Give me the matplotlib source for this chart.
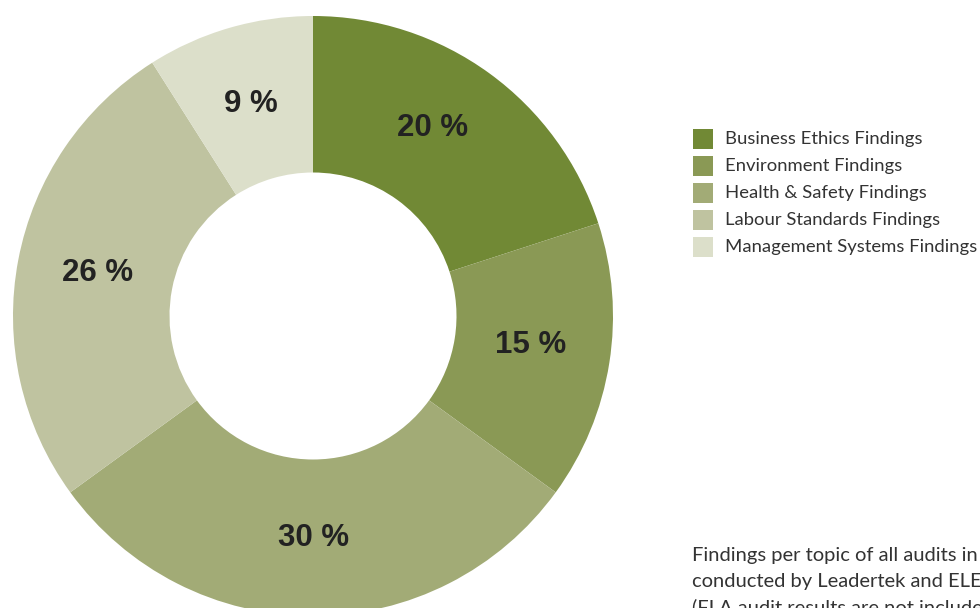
import matplotlib.pyplot as plt
from matplotlib.patches import Rectangle

# --- Findings per topic (percent of all findings) ---
topics = ['Business Ethics Findings', 'Environment Findings', 'Health & Safety Findings',
          'Labour Standards Findings', 'Management Systems Findings']
shares = [20, 15, 30, 26, 9]
cols = ['#718935', '#8a9955', '#a2ab76', '#bfc3a0', '#dcdfca']
note = ['Findings per topic of all audits in',
        'conducted by Leadertek and ELEVATE',
        '(FLA audit results are not included)']

# small hand nudges for the percentage labels (pixels, x right / y up)
nudge = [(-10, 9.5), (-1, 5.5), (1, -0.5), (2, 1.5), (0, -0.5)]

fig = plt.figure(figsize=(9.8, 6.08), dpi=100)
ax = fig.add_axes([0, 0, 1, 1])

# donut, drawn clockwise from 12 o'clock, in pixel units
cx, cy, R = 313, 608 - 316, 300
wedges, texts = ax.pie(shares, colors=cols, startangle=90, counterclock=False,
                       center=(cx, cy), radius=R,
                       wedgeprops=dict(width=R - 143.5, linewidth=0),
                       labels=[f'{s} %' for s in shares], labeldistance=0.737)
for t, (dx, dy) in zip(texts, nudge):
    x, y = t.get_position()
    t.set_position((x + dx, y + dy))
    t.set_ha('center'); t.set_va('center')
    t.set_fontsize(22.5); t.set_fontweight('bold')
    t.set_family('Liberation Sans'); t.set_color('#222222')

ax.set_xlim(0, 980); ax.set_ylim(0, 608)
ax.set_aspect('equal')
ax.axis('off')

# legend
for i, (name, c) in enumerate(zip(topics, cols)):
    y = 608 - (139 + 27 * i)
    ax.add_patch(Rectangle((693, y - 10), 20, 20, color=c, lw=0))
    ax.text(725, y, name, fontsize=13.3, family='Lato', color='#333333', va='center', ha='left')

# caption under the legend
for i, line in enumerate(note):
    ax.text(692, 608 - (555 + 26 * i), line, fontsize=14.5, family='Lato',
            color='#333333', va='center', ha='left', clip_on=False)

fig.savefig('out.png', dpi=100, facecolor='white')
